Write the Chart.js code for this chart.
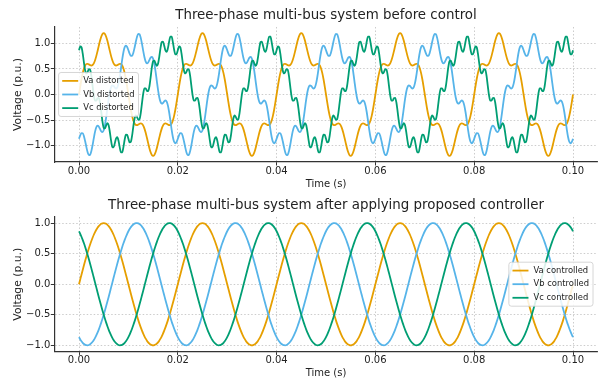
<!DOCTYPE html>
<html><head><meta charset="utf-8">
<script src="https://cdn.jsdelivr.net/npm/chart.js@4.4.1/dist/chart.umd.min.js"></script>
<style>
html,body{margin:0;padding:0;background:#fff;}
#wrap{position:relative;width:600px;height:379px;overflow:hidden;background:#fff;}
#c1{position:absolute;left:0;top:0;}
#c2{position:absolute;left:0;top:190px;}
</style></head><body>
<div id="wrap"><canvas id="c1" width="600" height="190"></canvas><canvas id="c2" width="600" height="189"></canvas></div>
<script>
// time samples (s)
const time = [
.00,.00025,.0005,.00075,.001,.00125,.0015,.00175,.002,.00225,.0025,.00275,.003,.00325,.0035,.00375,.004,.00425,.0045,.00475,
.005,.00525,.0055,.00575,.006,.00625,.0065,.00675,.007,.00725,.0075,.00775,.008,.00825,.0085,.00875,.009,.00925,.0095,.00975,
.01,.01025,.0105,.01075,.011,.01125,.0115,.01175,.012,.01225,.0125,.01275,.013,.01325,.0135,.01375,.014,.01425,.0145,.01475,
.015,.01525,.0155,.01575,.016,.01625,.0165,.01675,.017,.01725,.0175,.01775,.018,.01825,.0185,.01875,.019,.01925,.0195,.01975,
.02,.02025,.0205,.02075,.021,.02125,.0215,.02175,.022,.02225,.0225,.02275,.023,.02325,.0235,.02375,.024,.02425,.0245,.02475,
.025,.02525,.0255,.02575,.026,.02625,.0265,.02675,.027,.02725,.0275,.02775,.028,.02825,.0285,.02875,.029,.02925,.0295,.02975,
.03,.03025,.0305,.03075,.031,.03125,.0315,.03175,.032,.03225,.0325,.03275,.033,.03325,.0335,.03375,.034,.03425,.0345,.03475,
.035,.03525,.0355,.03575,.036,.03625,.0365,.03675,.037,.03725,.0375,.03775,.038,.03825,.0385,.03875,.039,.03925,.0395,.03975,
.04,.04025,.0405,.04075,.041,.04125,.0415,.04175,.042,.04225,.0425,.04275,.043,.04325,.0435,.04375,.044,.04425,.0445,.04475,
.045,.04525,.0455,.04575,.046,.04625,.0465,.04675,.047,.04725,.0475,.04775,.048,.04825,.0485,.04875,.049,.04925,.0495,.04975,
.05,.05025,.0505,.05075,.051,.05125,.0515,.05175,.052,.05225,.0525,.05275,.053,.05325,.0535,.05375,.054,.05425,.0545,.05475,
.055,.05525,.0555,.05575,.056,.05625,.0565,.05675,.057,.05725,.0575,.05775,.058,.05825,.0585,.05875,.059,.05925,.0595,.05975,
.06,.06025,.0605,.06075,.061,.06125,.0615,.06175,.062,.06225,.0625,.06275,.063,.06325,.0635,.06375,.064,.06425,.0645,.06475,
.065,.06525,.0655,.06575,.066,.06625,.0665,.06675,.067,.06725,.0675,.06775,.068,.06825,.0685,.06875,.069,.06925,.0695,.06975,
.07,.07025,.0705,.07075,.071,.07125,.0715,.07175,.072,.07225,.0725,.07275,.073,.07325,.0735,.07375,.074,.07425,.0745,.07475,
.075,.07525,.0755,.07575,.076,.07625,.0765,.07675,.077,.07725,.0775,.07775,.078,.07825,.0785,.07875,.079,.07925,.0795,.07975,
.08,.08025,.0805,.08075,.081,.08125,.0815,.08175,.082,.08225,.0825,.08275,.083,.08325,.0835,.08375,.084,.08425,.0845,.08475,
.085,.08525,.0855,.08575,.086,.08625,.0865,.08675,.087,.08725,.0875,.08775,.088,.08825,.0885,.08875,.089,.08925,.0895,.08975,
.09,.09025,.0905,.09075,.091,.09125,.0915,.09175,.092,.09225,.0925,.09275,.093,.09325,.0935,.09375,.094,.09425,.0945,.09475,
.095,.09525,.0955,.09575,.096,.09625,.0965,.09675,.097,.09725,.0975,.09775,.098,.09825,.0985,.09875,.099,.09925,.0995,.09975,
.1];

const vaDistorted = [
0,.155,.298,.418,.509,.567,.595,.599,.588,.573,.566,.576,.609,.668,.75,.847,.951,1.049,1.129,1.182,
1.2,1.182,1.129,1.049,.951,.847,.75,.668,.609,.576,.566,.573,.588,.599,.595,.567,.509,.418,.298,.155,
0,-.155,-.298,-.418,-.509,-.567,-.595,-.599,-.588,-.573,-.566,-.576,-.609,-.668,-.75,-.847,-.951,-1.049,-1.129,-1.182,
-1.2,-1.182,-1.129,-1.049,-.951,-.847,-.75,-.668,-.609,-.576,-.566,-.573,-.588,-.599,-.595,-.567,-.509,-.418,-.298,-.155,
0,.155,.298,.418,.509,.567,.595,.599,.588,.573,.566,.576,.609,.668,.75,.847,.951,1.049,1.129,1.182,
1.2,1.182,1.129,1.049,.951,.847,.75,.668,.609,.576,.566,.573,.588,.599,.595,.567,.509,.418,.298,.155,
0,-.155,-.298,-.418,-.509,-.567,-.595,-.599,-.588,-.573,-.566,-.576,-.609,-.668,-.75,-.847,-.951,-1.049,-1.129,-1.182,
-1.2,-1.182,-1.129,-1.049,-.951,-.847,-.75,-.668,-.609,-.576,-.566,-.573,-.588,-.599,-.595,-.567,-.509,-.418,-.298,-.155,
0,.155,.298,.418,.509,.567,.595,.599,.588,.573,.566,.576,.609,.668,.75,.847,.951,1.049,1.129,1.182,
1.2,1.182,1.129,1.049,.951,.847,.75,.668,.609,.576,.566,.573,.588,.599,.595,.567,.509,.418,.298,.155,
0,-.155,-.298,-.418,-.509,-.567,-.595,-.599,-.588,-.573,-.566,-.576,-.609,-.668,-.75,-.847,-.951,-1.049,-1.129,-1.182,
-1.2,-1.182,-1.129,-1.049,-.951,-.847,-.75,-.668,-.609,-.576,-.566,-.573,-.588,-.599,-.595,-.567,-.509,-.418,-.298,-.155,
0,.155,.298,.418,.509,.567,.595,.599,.588,.573,.566,.576,.609,.668,.75,.847,.951,1.049,1.129,1.182,
1.2,1.182,1.129,1.049,.951,.847,.75,.668,.609,.576,.566,.573,.588,.599,.595,.567,.509,.418,.298,.155,
0,-.155,-.298,-.418,-.509,-.567,-.595,-.599,-.588,-.573,-.566,-.576,-.609,-.668,-.75,-.847,-.951,-1.049,-1.129,-1.182,
-1.2,-1.182,-1.129,-1.049,-.951,-.847,-.75,-.668,-.609,-.576,-.566,-.573,-.588,-.599,-.595,-.567,-.509,-.418,-.298,-.155,
0,.155,.298,.418,.509,.567,.595,.599,.588,.573,.566,.576,.609,.668,.75,.847,.951,1.049,1.129,1.182,
1.2,1.182,1.129,1.049,.951,.847,.75,.668,.609,.576,.566,.573,.588,.599,.595,.567,.509,.418,.298,.155,
0,-.155,-.298,-.418,-.509,-.567,-.595,-.599,-.588,-.573,-.566,-.576,-.609,-.668,-.75,-.847,-.951,-1.049,-1.129,-1.182,
-1.2,-1.182,-1.129,-1.049,-.951,-.847,-.75,-.668,-.609,-.576,-.566,-.573,-.588,-.599,-.595,-.567,-.509,-.418,-.298,-.155,
0];

const vbDistorted = [
-.866,-.798,-.755,-.759,-.816,-.915,-1.03,-1.13,-1.185,-1.178,-1.107,-.989,-.852,-.727,-.641,-.609,-.626,-.673,-.72,-.737,
-.7,-.601,-.449,-.268,-.09,.054,.145,.178,.166,.136,.117,.139,.217,.347,.513,.685,.831,.925,.955,.929,
.866,.798,.755,.759,.816,.915,1.03,1.13,1.185,1.178,1.107,.989,.852,.727,.641,.609,.626,.673,.72,.737,
.7,.601,.449,.268,.09,-.054,-.145,-.178,-.166,-.136,-.117,-.139,-.217,-.347,-.513,-.685,-.831,-.925,-.955,-.929,
-.866,-.798,-.755,-.759,-.816,-.915,-1.03,-1.13,-1.185,-1.178,-1.107,-.989,-.852,-.727,-.641,-.609,-.626,-.673,-.72,-.737,
-.7,-.601,-.449,-.268,-.09,.054,.145,.178,.166,.136,.117,.139,.217,.347,.513,.685,.831,.925,.955,.929,
.866,.798,.755,.759,.816,.915,1.03,1.13,1.185,1.178,1.107,.989,.852,.727,.641,.609,.626,.673,.72,.737,
.7,.601,.449,.268,.09,-.054,-.145,-.178,-.166,-.136,-.117,-.139,-.217,-.347,-.513,-.685,-.831,-.925,-.955,-.929,
-.866,-.798,-.755,-.759,-.816,-.915,-1.03,-1.13,-1.185,-1.178,-1.107,-.989,-.852,-.727,-.641,-.609,-.626,-.673,-.72,-.737,
-.7,-.601,-.449,-.268,-.09,.054,.145,.178,.166,.136,.117,.139,.217,.347,.513,.685,.831,.925,.955,.929,
.866,.798,.755,.759,.816,.915,1.03,1.13,1.185,1.178,1.107,.989,.852,.727,.641,.609,.626,.673,.72,.737,
.7,.601,.449,.268,.09,-.054,-.145,-.178,-.166,-.136,-.117,-.139,-.217,-.347,-.513,-.685,-.831,-.925,-.955,-.929,
-.866,-.798,-.755,-.759,-.816,-.915,-1.03,-1.13,-1.185,-1.178,-1.107,-.989,-.852,-.727,-.641,-.609,-.626,-.673,-.72,-.737,
-.7,-.601,-.449,-.268,-.09,.054,.145,.178,.166,.136,.117,.139,.217,.347,.513,.685,.831,.925,.955,.929,
.866,.798,.755,.759,.816,.915,1.03,1.13,1.185,1.178,1.107,.989,.852,.727,.641,.609,.626,.673,.72,.737,
.7,.601,.449,.268,.09,-.054,-.145,-.178,-.166,-.136,-.117,-.139,-.217,-.347,-.513,-.685,-.831,-.925,-.955,-.929,
-.866,-.798,-.755,-.759,-.816,-.915,-1.03,-1.13,-1.185,-1.178,-1.107,-.989,-.852,-.727,-.641,-.609,-.626,-.673,-.72,-.737,
-.7,-.601,-.449,-.268,-.09,.054,.145,.178,.166,.136,.117,.139,.217,.347,.513,.685,.831,.925,.955,.929,
.866,.798,.755,.759,.816,.915,1.03,1.13,1.185,1.178,1.107,.989,.852,.727,.641,.609,.626,.673,.72,.737,
.7,.601,.449,.268,.09,-.054,-.145,-.178,-.166,-.136,-.117,-.139,-.217,-.347,-.513,-.685,-.831,-.925,-.955,-.929,
-.866];

const vcDistorted = [
.866,.938,.925,.804,.623,.47,.411,.442,.495,.483,.365,.17,-.017,-.12,-.12,-.073,-.065,-.156,-.335,-.528,
-.65,-.664,-.606,-.56,-.6,-.736,-.907,-1.025,-1.035,-.954,-.86,-.834,-.906,-1.035,-1.132,-1.13,-1.025,-.88,-.785,-.789,
-.866,-.938,-.925,-.804,-.623,-.47,-.411,-.442,-.495,-.483,-.365,-.17,.017,.12,.12,.073,.065,.156,.335,.528,
.65,.664,.606,.56,.6,.736,.907,1.025,1.035,.954,.86,.834,.906,1.035,1.132,1.13,1.025,.88,.785,.789,
.866,.938,.925,.804,.623,.47,.411,.442,.495,.483,.365,.17,-.017,-.12,-.12,-.073,-.065,-.156,-.335,-.528,
-.65,-.664,-.606,-.56,-.6,-.736,-.907,-1.025,-1.035,-.954,-.86,-.834,-.906,-1.035,-1.132,-1.13,-1.025,-.88,-.785,-.789,
-.866,-.938,-.925,-.804,-.623,-.47,-.411,-.442,-.495,-.483,-.365,-.17,.017,.12,.12,.073,.065,.156,.335,.528,
.65,.664,.606,.56,.6,.736,.907,1.025,1.035,.954,.86,.834,.906,1.035,1.132,1.13,1.025,.88,.785,.789,
.866,.938,.925,.804,.623,.47,.411,.442,.495,.483,.365,.17,-.017,-.12,-.12,-.073,-.065,-.156,-.335,-.528,
-.65,-.664,-.606,-.56,-.6,-.736,-.907,-1.025,-1.035,-.954,-.86,-.834,-.906,-1.035,-1.132,-1.13,-1.025,-.88,-.785,-.789,
-.866,-.938,-.925,-.804,-.623,-.47,-.411,-.442,-.495,-.483,-.365,-.17,.017,.12,.12,.073,.065,.156,.335,.528,
.65,.664,.606,.56,.6,.736,.907,1.025,1.035,.954,.86,.834,.906,1.035,1.132,1.13,1.025,.88,.785,.789,
.866,.938,.925,.804,.623,.47,.411,.442,.495,.483,.365,.17,-.017,-.12,-.12,-.073,-.065,-.156,-.335,-.528,
-.65,-.664,-.606,-.56,-.6,-.736,-.907,-1.025,-1.035,-.954,-.86,-.834,-.906,-1.035,-1.132,-1.13,-1.025,-.88,-.785,-.789,
-.866,-.938,-.925,-.804,-.623,-.47,-.411,-.442,-.495,-.483,-.365,-.17,.017,.12,.12,.073,.065,.156,.335,.528,
.65,.664,.606,.56,.6,.736,.907,1.025,1.035,.954,.86,.834,.906,1.035,1.132,1.13,1.025,.88,.785,.789,
.866,.938,.925,.804,.623,.47,.411,.442,.495,.483,.365,.17,-.017,-.12,-.12,-.073,-.065,-.156,-.335,-.528,
-.65,-.664,-.606,-.56,-.6,-.736,-.907,-1.025,-1.035,-.954,-.86,-.834,-.906,-1.035,-1.132,-1.13,-1.025,-.88,-.785,-.789,
-.866,-.938,-.925,-.804,-.623,-.47,-.411,-.442,-.495,-.483,-.365,-.17,.017,.12,.12,.073,.065,.156,.335,.528,
.65,.664,.606,.56,.6,.736,.907,1.025,1.035,.954,.86,.834,.906,1.035,1.132,1.13,1.025,.88,.785,.789,
.866];

const vaControlled = [
0,.078,.156,.233,.309,.383,.454,.522,.588,.649,.707,.76,.809,.853,.891,.924,.951,.972,.988,.997,
1,.997,.988,.972,.951,.924,.891,.853,.809,.76,.707,.649,.588,.522,.454,.383,.309,.233,.156,.078,
0,-.078,-.156,-.233,-.309,-.383,-.454,-.522,-.588,-.649,-.707,-.76,-.809,-.853,-.891,-.924,-.951,-.972,-.988,-.997,
-1,-.997,-.988,-.972,-.951,-.924,-.891,-.853,-.809,-.76,-.707,-.649,-.588,-.522,-.454,-.383,-.309,-.233,-.156,-.078,
0,.078,.156,.233,.309,.383,.454,.522,.588,.649,.707,.76,.809,.853,.891,.924,.951,.972,.988,.997,
1,.997,.988,.972,.951,.924,.891,.853,.809,.76,.707,.649,.588,.522,.454,.383,.309,.233,.156,.078,
0,-.078,-.156,-.233,-.309,-.383,-.454,-.522,-.588,-.649,-.707,-.76,-.809,-.853,-.891,-.924,-.951,-.972,-.988,-.997,
-1,-.997,-.988,-.972,-.951,-.924,-.891,-.853,-.809,-.76,-.707,-.649,-.588,-.522,-.454,-.383,-.309,-.233,-.156,-.078,
0,.078,.156,.233,.309,.383,.454,.522,.588,.649,.707,.76,.809,.853,.891,.924,.951,.972,.988,.997,
1,.997,.988,.972,.951,.924,.891,.853,.809,.76,.707,.649,.588,.522,.454,.383,.309,.233,.156,.078,
0,-.078,-.156,-.233,-.309,-.383,-.454,-.522,-.588,-.649,-.707,-.76,-.809,-.853,-.891,-.924,-.951,-.972,-.988,-.997,
-1,-.997,-.988,-.972,-.951,-.924,-.891,-.853,-.809,-.76,-.707,-.649,-.588,-.522,-.454,-.383,-.309,-.233,-.156,-.078,
0,.078,.156,.233,.309,.383,.454,.522,.588,.649,.707,.76,.809,.853,.891,.924,.951,.972,.988,.997,
1,.997,.988,.972,.951,.924,.891,.853,.809,.76,.707,.649,.588,.522,.454,.383,.309,.233,.156,.078,
0,-.078,-.156,-.233,-.309,-.383,-.454,-.522,-.588,-.649,-.707,-.76,-.809,-.853,-.891,-.924,-.951,-.972,-.988,-.997,
-1,-.997,-.988,-.972,-.951,-.924,-.891,-.853,-.809,-.76,-.707,-.649,-.588,-.522,-.454,-.383,-.309,-.233,-.156,-.078,
0,.078,.156,.233,.309,.383,.454,.522,.588,.649,.707,.76,.809,.853,.891,.924,.951,.972,.988,.997,
1,.997,.988,.972,.951,.924,.891,.853,.809,.76,.707,.649,.588,.522,.454,.383,.309,.233,.156,.078,
0,-.078,-.156,-.233,-.309,-.383,-.454,-.522,-.588,-.649,-.707,-.76,-.809,-.853,-.891,-.924,-.951,-.972,-.988,-.997,
-1,-.997,-.988,-.972,-.951,-.924,-.891,-.853,-.809,-.76,-.707,-.649,-.588,-.522,-.454,-.383,-.309,-.233,-.156,-.078,
0];

const vbControlled = [
-.866,-.903,-.934,-.959,-.978,-.991,-.999,-1,-.995,-.983,-.966,-.943,-.914,-.879,-.839,-.793,-.743,-.688,-.629,-.566,
-.5,-.431,-.358,-.284,-.208,-.131,-.052,.026,.105,.182,.259,.334,.407,.477,.545,.609,.669,.725,.777,.824,
.866,.903,.934,.959,.978,.991,.999,1,.995,.983,.966,.943,.914,.879,.839,.793,.743,.688,.629,.566,
.5,.431,.358,.284,.208,.131,.052,-.026,-.105,-.182,-.259,-.334,-.407,-.477,-.545,-.609,-.669,-.725,-.777,-.824,
-.866,-.903,-.934,-.959,-.978,-.991,-.999,-1,-.995,-.983,-.966,-.943,-.914,-.879,-.839,-.793,-.743,-.688,-.629,-.566,
-.5,-.431,-.358,-.284,-.208,-.131,-.052,.026,.105,.182,.259,.334,.407,.477,.545,.609,.669,.725,.777,.824,
.866,.903,.934,.959,.978,.991,.999,1,.995,.983,.966,.943,.914,.879,.839,.793,.743,.688,.629,.566,
.5,.431,.358,.284,.208,.131,.052,-.026,-.105,-.182,-.259,-.334,-.407,-.477,-.545,-.609,-.669,-.725,-.777,-.824,
-.866,-.903,-.934,-.959,-.978,-.991,-.999,-1,-.995,-.983,-.966,-.943,-.914,-.879,-.839,-.793,-.743,-.688,-.629,-.566,
-.5,-.431,-.358,-.284,-.208,-.131,-.052,.026,.105,.182,.259,.334,.407,.477,.545,.609,.669,.725,.777,.824,
.866,.903,.934,.959,.978,.991,.999,1,.995,.983,.966,.943,.914,.879,.839,.793,.743,.688,.629,.566,
.5,.431,.358,.284,.208,.131,.052,-.026,-.105,-.182,-.259,-.334,-.407,-.477,-.545,-.609,-.669,-.725,-.777,-.824,
-.866,-.903,-.934,-.959,-.978,-.991,-.999,-1,-.995,-.983,-.966,-.943,-.914,-.879,-.839,-.793,-.743,-.688,-.629,-.566,
-.5,-.431,-.358,-.284,-.208,-.131,-.052,.026,.105,.182,.259,.334,.407,.477,.545,.609,.669,.725,.777,.824,
.866,.903,.934,.959,.978,.991,.999,1,.995,.983,.966,.943,.914,.879,.839,.793,.743,.688,.629,.566,
.5,.431,.358,.284,.208,.131,.052,-.026,-.105,-.182,-.259,-.334,-.407,-.477,-.545,-.609,-.669,-.725,-.777,-.824,
-.866,-.903,-.934,-.959,-.978,-.991,-.999,-1,-.995,-.983,-.966,-.943,-.914,-.879,-.839,-.793,-.743,-.688,-.629,-.566,
-.5,-.431,-.358,-.284,-.208,-.131,-.052,.026,.105,.182,.259,.334,.407,.477,.545,.609,.669,.725,.777,.824,
.866,.903,.934,.959,.978,.991,.999,1,.995,.983,.966,.943,.914,.879,.839,.793,.743,.688,.629,.566,
.5,.431,.358,.284,.208,.131,.052,-.026,-.105,-.182,-.259,-.334,-.407,-.477,-.545,-.609,-.669,-.725,-.777,-.824,
-.866];

const vcControlled = [
.866,.824,.777,.725,.669,.609,.545,.477,.407,.334,.259,.182,.105,.026,-.052,-.131,-.208,-.284,-.358,-.431,
-.5,-.566,-.629,-.688,-.743,-.793,-.839,-.879,-.914,-.943,-.966,-.983,-.995,-1,-.999,-.991,-.978,-.959,-.934,-.903,
-.866,-.824,-.777,-.725,-.669,-.609,-.545,-.477,-.407,-.334,-.259,-.182,-.105,-.026,.052,.131,.208,.284,.358,.431,
.5,.566,.629,.688,.743,.793,.839,.879,.914,.943,.966,.983,.995,1,.999,.991,.978,.959,.934,.903,
.866,.824,.777,.725,.669,.609,.545,.477,.407,.334,.259,.182,.105,.026,-.052,-.131,-.208,-.284,-.358,-.431,
-.5,-.566,-.629,-.688,-.743,-.793,-.839,-.879,-.914,-.943,-.966,-.983,-.995,-1,-.999,-.991,-.978,-.959,-.934,-.903,
-.866,-.824,-.777,-.725,-.669,-.609,-.545,-.477,-.407,-.334,-.259,-.182,-.105,-.026,.052,.131,.208,.284,.358,.431,
.5,.566,.629,.688,.743,.793,.839,.879,.914,.943,.966,.983,.995,1,.999,.991,.978,.959,.934,.903,
.866,.824,.777,.725,.669,.609,.545,.477,.407,.334,.259,.182,.105,.026,-.052,-.131,-.208,-.284,-.358,-.431,
-.5,-.566,-.629,-.688,-.743,-.793,-.839,-.879,-.914,-.943,-.966,-.983,-.995,-1,-.999,-.991,-.978,-.959,-.934,-.903,
-.866,-.824,-.777,-.725,-.669,-.609,-.545,-.477,-.407,-.334,-.259,-.182,-.105,-.026,.052,.131,.208,.284,.358,.431,
.5,.566,.629,.688,.743,.793,.839,.879,.914,.943,.966,.983,.995,1,.999,.991,.978,.959,.934,.903,
.866,.824,.777,.725,.669,.609,.545,.477,.407,.334,.259,.182,.105,.026,-.052,-.131,-.208,-.284,-.358,-.431,
-.5,-.566,-.629,-.688,-.743,-.793,-.839,-.879,-.914,-.943,-.966,-.983,-.995,-1,-.999,-.991,-.978,-.959,-.934,-.903,
-.866,-.824,-.777,-.725,-.669,-.609,-.545,-.477,-.407,-.334,-.259,-.182,-.105,-.026,.052,.131,.208,.284,.358,.431,
.5,.566,.629,.688,.743,.793,.839,.879,.914,.943,.966,.983,.995,1,.999,.991,.978,.959,.934,.903,
.866,.824,.777,.725,.669,.609,.545,.477,.407,.334,.259,.182,.105,.026,-.052,-.131,-.208,-.284,-.358,-.431,
-.5,-.566,-.629,-.688,-.743,-.793,-.839,-.879,-.914,-.943,-.966,-.983,-.995,-1,-.999,-.991,-.978,-.959,-.934,-.903,
-.866,-.824,-.777,-.725,-.669,-.609,-.545,-.477,-.407,-.334,-.259,-.182,-.105,-.026,.052,.131,.208,.284,.358,.431,
.5,.566,.629,.688,.743,.793,.839,.879,.914,.943,.966,.983,.995,1,.999,.991,.978,.959,.934,.903,
.866];

const xTicks = [0, 0.02, 0.04, 0.06, 0.08, 0.10];
const xTickLabels = ['0.00', '0.02', '0.04', '0.06', '0.08', '0.10'];
const yTicks = [-1, -0.5, 0, 0.5, 1];
const yTickLabels = ['\u22121.0', '\u22120.5', '0.0', '0.5', '1.0'];
const distortedLabels = ['Va distorted', 'Vb distorted', 'Vc distorted'];
const controlledLabels = ['Va controlled', 'Vb controlled', 'Vc controlled'];
const colors = ['#E69F00', '#56B4E9', '#009E73'];
const FONT = "'DejaVu Sans', 'Liberation Sans', sans-serif";

const insideLegend = {
  id: 'insideLegend',
  afterDraw(chart, args, o) {
    const ctx = chart.ctx, a = chart.chartArea;
    const ds = chart.data.datasets;
    ctx.save();
    ctx.font = o.size + 'px ' + FONT;
    const tw = Math.max(...ds.map(d => ctx.measureText(d.label).width));
    const w = o.padL + o.handle + o.gap + tw + o.padR;
    const h = ds.length * o.row + o.padV * 2;
    const x = o.side === 'left' ? a.left + o.margin : a.right - o.margin - w;
    const y = (a.top + a.bottom) / 2 - h / 2;
    ctx.beginPath();
    if (ctx.roundRect) ctx.roundRect(x, y, w, h, 2.5); else ctx.rect(x, y, w, h);
    ctx.fillStyle = 'rgba(255,255,255,0.85)';
    ctx.fill();
    ctx.lineWidth = 0.8;
    ctx.strokeStyle = '#cccccc';
    ctx.stroke();
    ds.forEach((d, i) => {
      const cy = y + o.padV + o.row * (i + 0.5);
      ctx.beginPath();
      ctx.moveTo(x + o.padL, cy);
      ctx.lineTo(x + o.padL + o.handle, cy);
      ctx.strokeStyle = d.borderColor;
      ctx.lineWidth = d.borderWidth;
      ctx.stroke();
      ctx.fillStyle = '#222222';
      ctx.textBaseline = 'middle';
      ctx.textAlign = 'left';
      ctx.fillText(d.label, x + o.padL + o.handle + o.gap, cy);
    });
    ctx.restore();
  }
};

function makeChart(canvas, title, labels, series, yMin, yMax, legendSide, xHeight) {
  const datasets = series.map((s, i) => ({
    label: labels[i],
    data: time.map((t, j) => ({x: t, y: s[j]})),
    borderColor: colors[i],
    borderWidth: 1.8,
    pointRadius: 0,
    fill: false,
    cubicInterpolationMode: 'monotone',
    order: 3 - i
  }));
  const gridOpts = {
    color: 'rgba(170,170,170,0.75)', lineWidth: 0.8,
    tickLength: 3.5, tickColor: '#333333', tickWidth: 1, tickBorderDash: []
  };
  const borderOpts = { display: true, color: '#333333', width: 1.2, dash: [1.5, 2] };
  return new Chart(canvas, {
    type: 'line',
    data: { datasets },
    options: {
      responsive: false, animation: false, devicePixelRatio: 1,
      layout: { padding: { left: 0, right: 2.3, top: 0, bottom: 0 } },
      plugins: {
        legend: { display: false },
        tooltip: { enabled: false },
        title: {
          display: true, text: title, fullSize: false, color: '#222222',
          font: { family: FONT, size: 13.4, weight: 'normal' },
          padding: { top: 7.5, bottom: 3.4 }
        },
        insideLegend: { side: legendSide, margin: legendSide === 'left' ? 4.3 : 4.7, size: 8.4,
          padL: 3.6, handle: 16, gap: 5, padR: 4, row: 13.6, padV: 1.6 }
      },
      scales: {
        x: {
          type: 'linear', min: -0.005, max: 0.105,
          afterBuildTicks: s => { s.ticks = xTicks.map(v => ({ value: v })); },
          afterFit: s => { s.height = xHeight; },
          ticks: { callback: (v, i) => xTickLabels[i], autoSkip: false, maxRotation: 0, padding: 0,
            color: '#222222', font: { family: FONT, size: 10 } },
          grid: gridOpts, border: borderOpts,
          title: { display: true, text: 'Time (s)', color: '#222222',
            font: { family: FONT, size: 10 }, padding: { top: 0, bottom: 0 } }
        },
        y: {
          type: 'linear', min: yMin, max: yMax,
          afterBuildTicks: s => { s.ticks = yTicks.map(v => ({ value: v })); },
          afterFit: s => { s.width = 54.3; },
          ticks: { callback: (v, i) => yTickLabels[i], autoSkip: false, padding: 0.5,
            color: '#222222', font: { family: FONT, size: 10 } },
          grid: gridOpts, border: borderOpts,
          title: { display: true, text: 'Voltage (p.u.)', color: '#222222',
            font: { family: FONT, size: 10.8 }, padding: { top: 12.2, bottom: 0 } }
        }
      }
    },
    plugins: [insideLegend]
  });
}

makeChart(document.getElementById('c1'), 'Three-phase multi-bus system before control',
  distortedLabels, [vaDistorted, vbDistorted, vcDistorted], -1.32, 1.32, 'left', 28);
makeChart(document.getElementById('c2'), 'Three-phase multi-bus system after applying proposed controller',
  controlledLabels, [vaControlled, vbControlled, vcControlled], -1.1, 1.1, 'right', 27.6);
</script>
</body></html>
